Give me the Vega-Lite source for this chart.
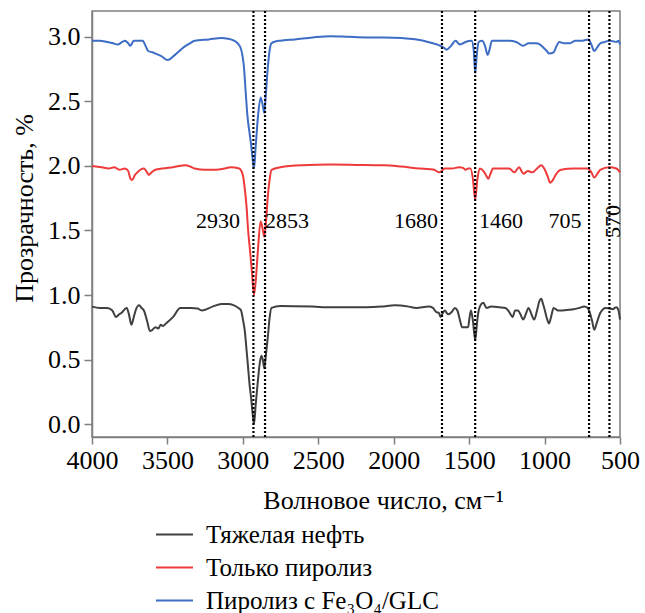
{
  "$schema": "https://vega.github.io/schema/vega-lite/v6.json",
  "width": 528,
  "height": 426,
  "autosize": {"type": "none"},
  "padding": {"left": 92, "top": 11, "right": 25, "bottom": 176},
  "background": "white",
  "config": {
    "font": "Liberation Serif, Times New Roman, DejaVu Serif, serif",
    "axis": {"labelFont": "Liberation Serif, Times New Roman, DejaVu Serif, serif", "titleFont": "Liberation Serif, Times New Roman, DejaVu Serif, serif"},
    "legend": {"labelFont": "Liberation Serif, Times New Roman, DejaVu Serif, serif", "titleFont": "Liberation Serif, Times New Roman, DejaVu Serif, serif"},
    "text": {"font": "Liberation Serif, Times New Roman, DejaVu Serif, serif"},
    "view": {"stroke": "#7f7f7f", "strokeWidth": 1.5}
  },
  "datasets": {
    "spectra": [
      {"series": "Пиролиз с Fe₃O₄/GLC", "wn": 4000, "t": 2.97},
      {"series": "Пиролиз с Fe₃O₄/GLC", "wn": 3950, "t": 2.97},
      {"series": "Пиролиз с Fe₃O₄/GLC", "wn": 3900, "t": 2.96},
      {"series": "Пиролиз с Fe₃O₄/GLC", "wn": 3860, "t": 2.95},
      {"series": "Пиролиз с Fe₃O₄/GLC", "wn": 3830, "t": 2.94},
      {"series": "Пиролиз с Fe₃O₄/GLC", "wn": 3800, "t": 2.96},
      {"series": "Пиролиз с Fe₃O₄/GLC", "wn": 3782, "t": 2.97},
      {"series": "Пиролиз с Fe₃O₄/GLC", "wn": 3760, "t": 2.95},
      {"series": "Пиролиз с Fe₃O₄/GLC", "wn": 3746, "t": 2.93},
      {"series": "Пиролиз с Fe₃O₄/GLC", "wn": 3723, "t": 2.97},
      {"series": "Пиролиз с Fe₃O₄/GLC", "wn": 3690, "t": 2.97},
      {"series": "Пиролиз с Fe₃O₄/GLC", "wn": 3664, "t": 2.97},
      {"series": "Пиролиз с Fe₃O₄/GLC", "wn": 3645, "t": 2.93},
      {"series": "Пиролиз с Fe₃O₄/GLC", "wn": 3628, "t": 2.89},
      {"series": "Пиролиз с Fe₃O₄/GLC", "wn": 3600, "t": 2.88},
      {"series": "Пиролиз с Fe₃O₄/GLC", "wn": 3580, "t": 2.87},
      {"series": "Пиролиз с Fe₃O₄/GLC", "wn": 3540, "t": 2.85},
      {"series": "Пиролиз с Fe₃O₄/GLC", "wn": 3498, "t": 2.82},
      {"series": "Пиролиз с Fe₃O₄/GLC", "wn": 3450, "t": 2.86},
      {"series": "Пиролиз с Fe₃O₄/GLC", "wn": 3391, "t": 2.92},
      {"series": "Пиролиз с Fe₃O₄/GLC", "wn": 3350, "t": 2.95},
      {"series": "Пиролиз с Fe₃O₄/GLC", "wn": 3320, "t": 2.97},
      {"series": "Пиролиз с Fe₃O₄/GLC", "wn": 3225, "t": 2.98},
      {"series": "Пиролиз с Fe₃O₄/GLC", "wn": 3142, "t": 2.99},
      {"series": "Пиролиз с Fe₃O₄/GLC", "wn": 3100, "t": 2.985},
      {"series": "Пиролиз с Fe₃O₄/GLC", "wn": 3059, "t": 2.97},
      {"series": "Пиролиз с Fe₃O₄/GLC", "wn": 3035, "t": 2.95},
      {"series": "Пиролиз с Fe₃O₄/GLC", "wn": 3017, "t": 2.92},
      {"series": "Пиролиз с Fe₃O₄/GLC", "wn": 3005, "t": 2.87},
      {"series": "Пиролиз с Fe₃O₄/GLC", "wn": 2993, "t": 2.77},
      {"series": "Пиролиз с Fe₃O₄/GLC", "wn": 2980, "t": 2.55},
      {"series": "Пиролиз с Fe₃O₄/GLC", "wn": 2969, "t": 2.38},
      {"series": "Пиролиз с Fe₃O₄/GLC", "wn": 2955, "t": 2.25},
      {"series": "Пиролиз с Fe₃O₄/GLC", "wn": 2946, "t": 2.17},
      {"series": "Пиролиз с Fe₃O₄/GLC", "wn": 2935, "t": 2.05},
      {"series": "Пиролиз с Fe₃O₄/GLC", "wn": 2926, "t": 1.98},
      {"series": "Пиролиз с Fe₃O₄/GLC", "wn": 2915, "t": 2.15},
      {"series": "Пиролиз с Fe₃O₄/GLC", "wn": 2900, "t": 2.38},
      {"series": "Пиролиз с Fe₃O₄/GLC", "wn": 2882, "t": 2.53},
      {"series": "Пиролиз с Fe₃O₄/GLC", "wn": 2870, "t": 2.48},
      {"series": "Пиролиз с Fe₃O₄/GLC", "wn": 2858, "t": 2.41},
      {"series": "Пиролиз с Fe₃O₄/GLC", "wn": 2848, "t": 2.55},
      {"series": "Пиролиз с Fe₃O₄/GLC", "wn": 2834, "t": 2.77},
      {"series": "Пиролиз с Fe₃O₄/GLC", "wn": 2822, "t": 2.9},
      {"series": "Пиролиз с Fe₃O₄/GLC", "wn": 2810, "t": 2.95},
      {"series": "Пиролиз с Fe₃O₄/GLC", "wn": 2780, "t": 2.965},
      {"series": "Пиролиз с Fe₃O₄/GLC", "wn": 2751, "t": 2.97},
      {"series": "Пиролиз с Fe₃O₄/GLC", "wn": 2656, "t": 2.98},
      {"series": "Пиролиз с Fe₃O₄/GLC", "wn": 2538, "t": 2.995},
      {"series": "Пиролиз с Fe₃O₄/GLC", "wn": 2419, "t": 3.005},
      {"series": "Пиролиз с Fe₃O₄/GLC", "wn": 2300, "t": 3.0},
      {"series": "Пиролиз с Fe₃O₄/GLC", "wn": 2182, "t": 2.995},
      {"series": "Пиролиз с Fe₃O₄/GLC", "wn": 2060, "t": 2.995},
      {"series": "Пиролиз с Fe₃O₄/GLC", "wn": 1945, "t": 2.99},
      {"series": "Пиролиз с Fe₃O₄/GLC", "wn": 1803, "t": 2.97},
      {"series": "Пиролиз с Fe₃O₄/GLC", "wn": 1740, "t": 2.95},
      {"series": "Пиролиз с Fe₃O₄/GLC", "wn": 1709, "t": 2.94},
      {"series": "Пиролиз с Fe₃O₄/GLC", "wn": 1690, "t": 2.93},
      {"series": "Пиролиз с Fe₃O₄/GLC", "wn": 1673, "t": 2.92},
      {"series": "Пиролиз с Fe₃O₄/GLC", "wn": 1649, "t": 2.9},
      {"series": "Пиролиз с Fe₃O₄/GLC", "wn": 1620, "t": 2.93},
      {"series": "Пиролиз с Fe₃O₄/GLC", "wn": 1590, "t": 2.97},
      {"series": "Пиролиз с Fe₃O₄/GLC", "wn": 1562, "t": 2.94},
      {"series": "Пиролиз с Fe₃O₄/GLC", "wn": 1540, "t": 2.95},
      {"series": "Пиролиз с Fe₃O₄/GLC", "wn": 1524, "t": 2.96},
      {"series": "Пиролиз с Fe₃O₄/GLC", "wn": 1484, "t": 2.97},
      {"series": "Пиролиз с Fe₃O₄/GLC", "wn": 1470, "t": 2.9},
      {"series": "Пиролиз с Fe₃O₄/GLC", "wn": 1460, "t": 2.72},
      {"series": "Пиролиз с Fe₃O₄/GLC", "wn": 1450, "t": 2.85},
      {"series": "Пиролиз с Fe₃O₄/GLC", "wn": 1437, "t": 2.96},
      {"series": "Пиролиз с Fe₃O₄/GLC", "wn": 1413, "t": 2.97},
      {"series": "Пиролиз с Fe₃O₄/GLC", "wn": 1395, "t": 2.93},
      {"series": "Пиролиз с Fe₃O₄/GLC", "wn": 1377, "t": 2.86},
      {"series": "Пиролиз с Fe₃O₄/GLC", "wn": 1365, "t": 2.9},
      {"series": "Пиролиз с Fe₃O₄/GLC", "wn": 1349, "t": 2.97},
      {"series": "Пиролиз с Fe₃O₄/GLC", "wn": 1300, "t": 2.97},
      {"series": "Пиролиз с Fe₃O₄/GLC", "wn": 1235, "t": 2.97},
      {"series": "Пиролиз с Fe₃O₄/GLC", "wn": 1188, "t": 2.96},
      {"series": "Пиролиз с Fe₃O₄/GLC", "wn": 1141, "t": 2.93},
      {"series": "Пиролиз с Fe₃O₄/GLC", "wn": 1106, "t": 2.95},
      {"series": "Пиролиз с Fe₃O₄/GLC", "wn": 1057, "t": 2.95},
      {"series": "Пиролиз с Fe₃O₄/GLC", "wn": 1030, "t": 2.94},
      {"series": "Пиролиз с Fe₃O₄/GLC", "wn": 1010, "t": 2.92},
      {"series": "Пиролиз с Fe₃O₄/GLC", "wn": 985, "t": 2.89},
      {"series": "Пиролиз с Fe₃O₄/GLC", "wn": 970, "t": 2.87},
      {"series": "Пиролиз с Fe₃O₄/GLC", "wn": 940, "t": 2.88},
      {"series": "Пиролиз с Fe₃O₄/GLC", "wn": 920, "t": 2.93},
      {"series": "Пиролиз с Fe₃O₄/GLC", "wn": 903, "t": 2.96},
      {"series": "Пиролиз с Fe₃O₄/GLC", "wn": 870, "t": 2.95},
      {"series": "Пиролиз с Fe₃O₄/GLC", "wn": 832, "t": 2.95},
      {"series": "Пиролиз с Fe₃O₄/GLC", "wn": 796, "t": 2.97},
      {"series": "Пиролиз с Fe₃O₄/GLC", "wn": 749, "t": 2.97},
      {"series": "Пиролиз с Fe₃O₄/GLC", "wn": 709, "t": 2.98},
      {"series": "Пиролиз с Fe₃O₄/GLC", "wn": 690, "t": 2.94},
      {"series": "Пиролиз с Fe₃O₄/GLC", "wn": 671, "t": 2.89},
      {"series": "Пиролиз с Fe₃O₄/GLC", "wn": 650, "t": 2.92},
      {"series": "Пиролиз с Fe₃O₄/GLC", "wn": 631, "t": 2.95},
      {"series": "Пиролиз с Fe₃O₄/GLC", "wn": 600, "t": 2.96},
      {"series": "Пиролиз с Fe₃O₄/GLC", "wn": 571, "t": 2.97},
      {"series": "Пиролиз с Fe₃O₄/GLC", "wn": 545, "t": 2.965},
      {"series": "Пиролиз с Fe₃O₄/GLC", "wn": 524, "t": 2.96},
      {"series": "Пиролиз с Fe₃O₄/GLC", "wn": 510, "t": 2.97},
      {"series": "Пиролиз с Fe₃O₄/GLC", "wn": 500, "t": 2.94},

      {"series": "Только пиролиз", "wn": 4000, "t": 2.0},
      {"series": "Только пиролиз", "wn": 3936, "t": 1.99},
      {"series": "Только пиролиз", "wn": 3889, "t": 1.98},
      {"series": "Только пиролиз", "wn": 3853, "t": 1.99},
      {"series": "Только пиролиз", "wn": 3818, "t": 1.97},
      {"series": "Только пиролиз", "wn": 3782, "t": 1.98},
      {"series": "Только пиролиз", "wn": 3760, "t": 1.96},
      {"series": "Только пиролиз", "wn": 3745, "t": 1.9},
      {"series": "Только пиролиз", "wn": 3735, "t": 1.89},
      {"series": "Только пиролиз", "wn": 3715, "t": 1.93},
      {"series": "Только пиролиз", "wn": 3699, "t": 1.95},
      {"series": "Только пиролиз", "wn": 3680, "t": 1.97},
      {"series": "Только пиролиз", "wn": 3656, "t": 1.98},
      {"series": "Только пиролиз", "wn": 3640, "t": 1.96},
      {"series": "Только пиролиз", "wn": 3623, "t": 1.93},
      {"series": "Только пиролиз", "wn": 3605, "t": 1.95},
      {"series": "Только пиролиз", "wn": 3580, "t": 1.97},
      {"series": "Только пиролиз", "wn": 3533, "t": 1.98},
      {"series": "Только пиролиз", "wn": 3462, "t": 1.99},
      {"series": "Только пиролиз", "wn": 3379, "t": 2.005},
      {"series": "Только пиролиз", "wn": 3350, "t": 1.995},
      {"series": "Только пиролиз", "wn": 3320, "t": 1.98},
      {"series": "Только пиролиз", "wn": 3249, "t": 1.97},
      {"series": "Только пиролиз", "wn": 3178, "t": 1.97},
      {"series": "Только пиролиз", "wn": 3120, "t": 1.98},
      {"series": "Только пиролиз", "wn": 3083, "t": 1.99},
      {"series": "Только пиролиз", "wn": 3024, "t": 1.98},
      {"series": "Только пиролиз", "wn": 3000, "t": 1.93},
      {"series": "Только пиролиз", "wn": 2988, "t": 1.83},
      {"series": "Только пиролиз", "wn": 2976, "t": 1.69},
      {"series": "Только пиролиз", "wn": 2965, "t": 1.5},
      {"series": "Только пиролиз", "wn": 2953, "t": 1.35},
      {"series": "Только пиролиз", "wn": 2940, "t": 1.18},
      {"series": "Только пиролиз", "wn": 2926, "t": 1.0},
      {"series": "Только пиролиз", "wn": 2912, "t": 1.15},
      {"series": "Только пиролиз", "wn": 2900, "t": 1.35},
      {"series": "Только пиролиз", "wn": 2882, "t": 1.57},
      {"series": "Только пиролиз", "wn": 2870, "t": 1.52},
      {"series": "Только пиролиз", "wn": 2858, "t": 1.45},
      {"series": "Только пиролиз", "wn": 2848, "t": 1.55},
      {"series": "Только пиролиз", "wn": 2834, "t": 1.77},
      {"series": "Только пиролиз", "wn": 2822, "t": 1.9},
      {"series": "Только пиролиз", "wn": 2810, "t": 1.97},
      {"series": "Только пиролиз", "wn": 2751, "t": 1.99},
      {"series": "Только пиролиз", "wn": 2609, "t": 2.005},
      {"series": "Только пиролиз", "wn": 2419, "t": 2.01},
      {"series": "Только пиролиз", "wn": 2250, "t": 2.008},
      {"series": "Только пиролиз", "wn": 2064, "t": 2.005},
      {"series": "Только пиролиз", "wn": 1950, "t": 1.995},
      {"series": "Только пиролиз", "wn": 1827, "t": 1.98},
      {"series": "Только пиролиз", "wn": 1760, "t": 1.975},
      {"series": "Только пиролиз", "wn": 1732, "t": 1.97},
      {"series": "Только пиролиз", "wn": 1697, "t": 1.95},
      {"series": "Только пиролиз", "wn": 1661, "t": 1.98},
      {"series": "Только пиролиз", "wn": 1614, "t": 1.98},
      {"series": "Только пиролиз", "wn": 1567, "t": 1.99},
      {"series": "Только пиролиз", "wn": 1540, "t": 1.985},
      {"series": "Только пиролиз", "wn": 1524, "t": 1.97},
      {"series": "Только пиролиз", "wn": 1505, "t": 1.98},
      {"series": "Только пиролиз", "wn": 1491, "t": 1.98},
      {"series": "Только пиролиз", "wn": 1475, "t": 1.9},
      {"series": "Только пиролиз", "wn": 1460, "t": 1.74},
      {"series": "Только пиролиз", "wn": 1447, "t": 1.88},
      {"series": "Только пиролиз", "wn": 1430, "t": 1.98},
      {"series": "Только пиролиз", "wn": 1405, "t": 1.96},
      {"series": "Только пиролиз", "wn": 1389, "t": 1.93},
      {"series": "Только пиролиз", "wn": 1373, "t": 1.9},
      {"series": "Только пиролиз", "wn": 1358, "t": 1.94},
      {"series": "Только пиролиз", "wn": 1342, "t": 1.98},
      {"series": "Только пиролиз", "wn": 1235, "t": 1.98},
      {"series": "Только пиролиз", "wn": 1200, "t": 1.95},
      {"series": "Только пиролиз", "wn": 1169, "t": 1.99},
      {"series": "Только пиролиз", "wn": 1141, "t": 1.94},
      {"series": "Только пиролиз", "wn": 1110, "t": 1.96},
      {"series": "Только пиролиз", "wn": 1081, "t": 1.95},
      {"series": "Только пиролиз", "wn": 1050, "t": 1.98},
      {"series": "Только пиролиз", "wn": 1022, "t": 2.005},
      {"series": "Только пиролиз", "wn": 998, "t": 1.97},
      {"series": "Только пиролиз", "wn": 980, "t": 1.92},
      {"series": "Только пиролиз", "wn": 963, "t": 1.87},
      {"series": "Только пиролиз", "wn": 945, "t": 1.89},
      {"series": "Только пиролиз", "wn": 927, "t": 1.93},
      {"series": "Только пиролиз", "wn": 891, "t": 1.97},
      {"series": "Только пиролиз", "wn": 808, "t": 1.98},
      {"series": "Только пиролиз", "wn": 714, "t": 1.98},
      {"series": "Только пиролиз", "wn": 690, "t": 1.95},
      {"series": "Только пиролиз", "wn": 671, "t": 1.91},
      {"series": "Только пиролиз", "wn": 650, "t": 1.94},
      {"series": "Только пиролиз", "wn": 631, "t": 1.97},
      {"series": "Только пиролиз", "wn": 571, "t": 1.99},
      {"series": "Только пиролиз", "wn": 524, "t": 1.98},
      {"series": "Только пиролиз", "wn": 500, "t": 1.95},

      {"series": "Тяжелая нефть", "wn": 4000, "t": 0.91},
      {"series": "Тяжелая нефть", "wn": 3948, "t": 0.9},
      {"series": "Тяжелая нефть", "wn": 3900, "t": 0.9},
      {"series": "Тяжелая нефть", "wn": 3865, "t": 0.88},
      {"series": "Тяжелая нефть", "wn": 3841, "t": 0.83},
      {"series": "Тяжелая нефть", "wn": 3820, "t": 0.85},
      {"series": "Тяжелая нефть", "wn": 3806, "t": 0.86},
      {"series": "Тяжелая нефть", "wn": 3770, "t": 0.9},
      {"series": "Тяжелая нефть", "wn": 3755, "t": 0.85},
      {"series": "Тяжелая нефть", "wn": 3739, "t": 0.77},
      {"series": "Тяжелая нефть", "wn": 3725, "t": 0.82},
      {"series": "Тяжелая нефть", "wn": 3711, "t": 0.88},
      {"series": "Тяжелая нефть", "wn": 3687, "t": 0.92},
      {"series": "Тяжелая нефть", "wn": 3672, "t": 0.9},
      {"series": "Тяжелая нефть", "wn": 3656, "t": 0.88},
      {"series": "Тяжелая нефть", "wn": 3635, "t": 0.8},
      {"series": "Тяжелая нефть", "wn": 3616, "t": 0.72},
      {"series": "Тяжелая нефть", "wn": 3600, "t": 0.73},
      {"series": "Тяжелая нефть", "wn": 3580, "t": 0.75},
      {"series": "Тяжелая нефть", "wn": 3560, "t": 0.74},
      {"series": "Тяжелая нефть", "wn": 3545, "t": 0.77},
      {"series": "Тяжелая нефть", "wn": 3530, "t": 0.76},
      {"series": "Тяжелая нефть", "wn": 3509, "t": 0.78},
      {"series": "Тяжелая нефть", "wn": 3462, "t": 0.83},
      {"series": "Тяжелая нефть", "wn": 3415, "t": 0.9},
      {"series": "Тяжелая нефть", "wn": 3344, "t": 0.9},
      {"series": "Тяжелая нефть", "wn": 3300, "t": 0.895},
      {"series": "Тяжелая нефть", "wn": 3273, "t": 0.88},
      {"series": "Тяжелая нефть", "wn": 3201, "t": 0.91},
      {"series": "Тяжелая нефть", "wn": 3142, "t": 0.93},
      {"series": "Тяжелая нефть", "wn": 3100, "t": 0.93},
      {"series": "Тяжелая нефть", "wn": 3059, "t": 0.92},
      {"series": "Тяжелая нефть", "wn": 3030, "t": 0.9},
      {"series": "Тяжелая нефть", "wn": 3012, "t": 0.88},
      {"series": "Тяжелая нефть", "wn": 2998, "t": 0.8},
      {"series": "Тяжелая нефть", "wn": 2988, "t": 0.73},
      {"series": "Тяжелая нефть", "wn": 2976, "t": 0.58},
      {"series": "Тяжелая нефть", "wn": 2964, "t": 0.42},
      {"series": "Тяжелая нефть", "wn": 2955, "t": 0.3},
      {"series": "Тяжелая нефть", "wn": 2946, "t": 0.21},
      {"series": "Тяжелая нефть", "wn": 2935, "t": 0.08},
      {"series": "Тяжелая нефть", "wn": 2926, "t": 0.0},
      {"series": "Тяжелая нефть", "wn": 2915, "t": 0.15},
      {"series": "Тяжелая нефть", "wn": 2900, "t": 0.34},
      {"series": "Тяжелая нефть", "wn": 2887, "t": 0.48},
      {"series": "Тяжелая нефть", "wn": 2877, "t": 0.53},
      {"series": "Тяжелая нефть", "wn": 2868, "t": 0.5},
      {"series": "Тяжелая нефть", "wn": 2858, "t": 0.43},
      {"series": "Тяжелая нефть", "wn": 2846, "t": 0.55},
      {"series": "Тяжелая нефть", "wn": 2834, "t": 0.68},
      {"series": "Тяжелая нефть", "wn": 2822, "t": 0.83},
      {"series": "Тяжелая нефть", "wn": 2810, "t": 0.9},
      {"series": "Тяжелая нефть", "wn": 2751, "t": 0.915},
      {"series": "Тяжелая нефть", "wn": 2538, "t": 0.91},
      {"series": "Тяжелая нефть", "wn": 2419, "t": 0.905},
      {"series": "Тяжелая нефть", "wn": 2182, "t": 0.905},
      {"series": "Тяжелая нефть", "wn": 2080, "t": 0.91},
      {"series": "Тяжелая нефть", "wn": 1993, "t": 0.92},
      {"series": "Тяжелая нефть", "wn": 1900, "t": 0.91},
      {"series": "Тяжелая нефть", "wn": 1851, "t": 0.9},
      {"series": "Тяжелая нефть", "wn": 1768, "t": 0.91},
      {"series": "Тяжелая нефть", "wn": 1740, "t": 0.9},
      {"series": "Тяжелая нефть", "wn": 1720, "t": 0.87},
      {"series": "Тяжелая нефть", "wn": 1700, "t": 0.86},
      {"series": "Тяжелая нефть", "wn": 1690, "t": 0.83},
      {"series": "Тяжелая нефть", "wn": 1675, "t": 0.86},
      {"series": "Тяжелая нефть", "wn": 1661, "t": 0.88},
      {"series": "Тяжелая нефть", "wn": 1640, "t": 0.85},
      {"series": "Тяжелая нефть", "wn": 1614, "t": 0.87},
      {"series": "Тяжелая нефть", "wn": 1595, "t": 0.9},
      {"series": "Тяжелая нефть", "wn": 1578, "t": 0.88},
      {"series": "Тяжелая нефть", "wn": 1560, "t": 0.8},
      {"series": "Тяжелая нефть", "wn": 1547, "t": 0.75},
      {"series": "Тяжелая нефть", "wn": 1525, "t": 0.75},
      {"series": "Тяжелая нефть", "wn": 1507, "t": 0.75},
      {"series": "Тяжелая нефть", "wn": 1498, "t": 0.82},
      {"series": "Тяжелая нефть", "wn": 1488, "t": 0.88},
      {"series": "Тяжелая нефть", "wn": 1475, "t": 0.8},
      {"series": "Тяжелая нефть", "wn": 1460, "t": 0.65},
      {"series": "Тяжелая нефть", "wn": 1448, "t": 0.78},
      {"series": "Тяжелая нефть", "wn": 1437, "t": 0.88},
      {"series": "Тяжелая нефть", "wn": 1420, "t": 0.93},
      {"series": "Тяжелая нефть", "wn": 1406, "t": 0.94},
      {"series": "Тяжелая нефть", "wn": 1385, "t": 0.9},
      {"series": "Тяжелая нефть", "wn": 1354, "t": 0.91},
      {"series": "Тяжелая нефть", "wn": 1300, "t": 0.905},
      {"series": "Тяжелая нефть", "wn": 1259, "t": 0.9},
      {"series": "Тяжелая нефть", "wn": 1235, "t": 0.87},
      {"series": "Тяжелая нефть", "wn": 1212, "t": 0.83},
      {"series": "Тяжелая нефть", "wn": 1195, "t": 0.88},
      {"series": "Тяжелая нефть", "wn": 1176, "t": 0.88},
      {"series": "Тяжелая нефть", "wn": 1160, "t": 0.85},
      {"series": "Тяжелая нефть", "wn": 1141, "t": 0.81},
      {"series": "Тяжелая нефть", "wn": 1125, "t": 0.85},
      {"series": "Тяжелая нефть", "wn": 1106, "t": 0.9},
      {"series": "Тяжелая нефть", "wn": 1090, "t": 0.86},
      {"series": "Тяжелая нефть", "wn": 1069, "t": 0.81},
      {"series": "Тяжелая нефть", "wn": 1050, "t": 0.88},
      {"series": "Тяжелая нефть", "wn": 1035, "t": 0.95},
      {"series": "Тяжелая нефть", "wn": 1022, "t": 0.97},
      {"series": "Тяжелая нефть", "wn": 1010, "t": 0.93},
      {"series": "Тяжелая нефть", "wn": 998, "t": 0.88},
      {"series": "Тяжелая нефть", "wn": 985, "t": 0.82},
      {"series": "Тяжелая нефть", "wn": 970, "t": 0.78},
      {"series": "Тяжелая нефть", "wn": 955, "t": 0.84},
      {"series": "Тяжелая нефть", "wn": 940, "t": 0.9},
      {"series": "Тяжелая нефть", "wn": 910, "t": 0.88},
      {"series": "Тяжелая нефть", "wn": 880, "t": 0.88},
      {"series": "Тяжелая нефть", "wn": 840, "t": 0.885},
      {"series": "Тяжелая нефть", "wn": 808, "t": 0.89},
      {"series": "Тяжелая нефть", "wn": 770, "t": 0.9},
      {"series": "Тяжелая нефть", "wn": 737, "t": 0.91},
      {"series": "Тяжелая нефть", "wn": 715, "t": 0.9},
      {"series": "Тяжелая нефть", "wn": 702, "t": 0.87},
      {"series": "Тяжелая нефть", "wn": 685, "t": 0.8},
      {"series": "Тяжелая нефть", "wn": 671, "t": 0.73},
      {"series": "Тяжелая нефть", "wn": 655, "t": 0.78},
      {"series": "Тяжелая нефть", "wn": 631, "t": 0.86},
      {"series": "Тяжелая нефть", "wn": 595, "t": 0.9},
      {"series": "Тяжелая нефть", "wn": 570, "t": 0.895},
      {"series": "Тяжелая нефть", "wn": 547, "t": 0.89},
      {"series": "Тяжелая нефть", "wn": 535, "t": 0.9},
      {"series": "Тяжелая нефть", "wn": 524, "t": 0.905},
      {"series": "Тяжелая нефть", "wn": 510, "t": 0.88},
      {"series": "Тяжелая нефть", "wn": 500, "t": 0.81}
    ],
    "bands": [
      {"wn": 2930}, {"wn": 2853}, {"wn": 1680}, {"wn": 1460}, {"wn": 705}, {"wn": 570}
    ],
    "labels": [
      {"wn": 3165, "t": 1.57, "label": "2930", "rot": "no"},
      {"wn": 2707, "t": 1.57, "label": "2853", "rot": "no"},
      {"wn": 1852, "t": 1.57, "label": "1680", "rot": "no"},
      {"wn": 1289, "t": 1.57, "label": "1460", "rot": "no"},
      {"wn": 865, "t": 1.57, "label": "705", "rot": "no"},
      {"wn": 546, "t": 1.57, "label": "570", "rot": "yes"}
    ]
  },
  "layer": [
    {
      "data": {"name": "spectra"},
      "mark": {"type": "line", "strokeWidth": 2, "interpolate": "monotone"},
      "encoding": {
        "x": {
          "field": "wn", "type": "quantitative",
          "scale": {"domain": [4000, 500], "nice": false, "zero": false},
          "axis": {
            "title": "Волновое число, см⁻¹",
            "values": [4000, 3750, 3500, 3250, 3000, 2750, 2500, 2250, 2000, 1750, 1500, 1250, 1000, 750, 500],
            "format": "d",
            "labelExpr": "datum.value % 500 === 0 ? datum.label : ''",
            "tickSize": {"condition": {"test": "datum.value % 500 !== 0", "value": 4}, "value": 7},
            "labelFontSize": 26, "labelColor": "black", "labelPadding": 3,
            "labelFlush": false, "labelOverlap": false,
            "domainColor": "#7f7f7f", "domainWidth": 1.5,
            "tickColor": "#7f7f7f", "tickWidth": 1.5,
            "grid": false,
            "titleFontSize": 26, "titleFontWeight": "normal", "titleColor": "black",
            "titleX": 291, "titleY": 71, "titleAlign": "center", "titleBaseline": "alphabetic"
          }
        },
        "y": {
          "field": "t", "type": "quantitative",
          "scale": {"domain": [-0.1, 3.2], "nice": false, "zero": false},
          "axis": {
            "title": "Прозрачность, %",
            "values": [0, 0.25, 0.5, 0.75, 1, 1.25, 1.5, 1.75, 2, 2.25, 2.5, 2.75, 3],
            "labelExpr": "(datum.value * 2) % 1 === 0 ? format(datum.value, '.1f') : ''",
            "tickSize": {"condition": {"test": "(datum.value * 2) % 1 !== 0", "value": 4}, "value": 8},
            "labelFontSize": 26, "labelColor": "black", "labelPadding": 4,
            "labelFlush": false, "labelOverlap": false,
            "domainColor": "#7f7f7f", "domainWidth": 1.5,
            "tickColor": "#7f7f7f", "tickWidth": 1.5,
            "grid": false,
            "titleFontSize": 26, "titleFontWeight": "normal", "titleColor": "black",
            "titleX": -68, "titleY": 197, "titleAlign": "center", "titleBaseline": "middle", "titleAngle": 270
          }
        },
        "color": {
          "field": "series", "type": "nominal",
          "scale": {
            "domain": ["Тяжелая нефть", "Только пиролиз", "Пиролиз с Fe₃O₄/GLC"],
            "range": ["#404040", "#ee3a3a", "#3d6dc4"]
          },
          "legend": {
            "orient": "none", "legendX": 63, "legendY": 504,
            "title": null, "padding": 0,
            "labelFontSize": 25, "labelColor": "black", "labelLimit": 0,
            "symbolType": "stroke", "symbolSize": 1369, "symbolStrokeWidth": 2,
            "labelOffset": 12, "rowPadding": -11
          }
        }
      }
    },
    {
      "data": {"name": "bands"},
      "mark": {"type": "rule", "color": "black", "strokeWidth": 2.2, "strokeDash": [2, 2]},
      "encoding": {
        "x": {"field": "wn", "type": "quantitative"}
      }
    },
    {
      "data": {"name": "labels"},
      "transform": [{"filter": "datum.rot === 'no'"}],
      "mark": {"type": "text", "fontSize": 22, "color": "black", "align": "center", "baseline": "middle"},
      "encoding": {
        "x": {"field": "wn", "type": "quantitative"},
        "y": {"field": "t", "type": "quantitative"},
        "text": {"field": "label"}
      }
    },
    {
      "data": {"name": "labels"},
      "transform": [{"filter": "datum.rot === 'yes'"}],
      "mark": {"type": "text", "fontSize": 22, "color": "black", "align": "center", "baseline": "middle", "angle": 270},
      "encoding": {
        "x": {"field": "wn", "type": "quantitative"},
        "y": {"field": "t", "type": "quantitative"},
        "text": {"field": "label"}
      }
    }
  ]
}
